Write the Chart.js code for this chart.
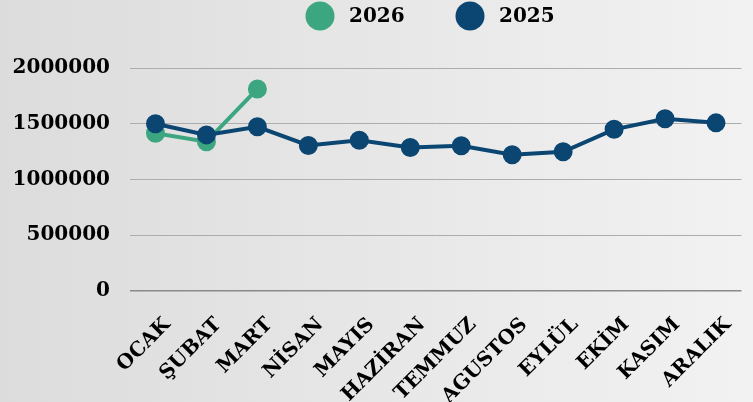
<!DOCTYPE html>
<html>
<head>
<meta charset="utf-8">
<script src="https://cdn.jsdelivr.net/npm/chart.js@4"></script>
<style>
  html, body { margin: 0; padding: 0; }
  body {
    width: 753px; height: 402px; overflow: hidden;
    background: linear-gradient(90deg, #dcdcdc 0%, #e6e6e6 45%, #f2f2f2 100%);
  }
  #wrap { position: relative; width: 753px; height: 402px; }
</style>
</head>
<body>
<div id="wrap"><canvas id="salesChart"></canvas></div>
<script>
const months = ["OCAK", "ŞUBAT", "MART", "NİSAN", "MAYIS", "HAZİRAN", "TEMMUZ", "AGUSTOS", "EYLÜL", "EKİM", "KASIM", "ARALIK"];
const values2025 = [1500000, 1400000, 1473000, 1305000, 1352000, 1287000, 1302000, 1222000, 1249000, 1450000, 1545000, 1508000];
const values2026 = [1414000, 1339000, 1812000];
const yTicks = [0, 500000, 1000000, 1500000, 2000000];

const BLUE = "#0b4673";
const GREEN = "#3ba67f";
const FONT = "'DejaVu Serif', serif";

// legend drawn by hand so the spacing matches the picture
const topLegend = {
  id: "topLegend",
  afterDraw(chart) {
    const ctx = chart.ctx;
    const items = [chart.data.datasets[1], chart.data.datasets[0]];
    let x = 320;
    ctx.save();
    ctx.font = "bold 20px " + FONT;
    ctx.textBaseline = "middle";
    items.forEach(ds => {
      ctx.beginPath();
      ctx.fillStyle = ds.borderColor;
      ctx.arc(x, 16, 14.5, 0, Math.PI * 2);
      ctx.fill();
      ctx.fillStyle = "#000";
      ctx.fillText(ds.label, x + 29, 17);
      x += 150;
    });
    ctx.restore();
  }
};

new Chart(document.getElementById("salesChart"), {
  type: "line",
  data: {
    labels: months,
    datasets: [
      {
        label: "2025",
        data: values2025,
        borderColor: BLUE,
        backgroundColor: BLUE,
        borderWidth: 4,
        pointRadius: 7.5,
        pointHoverRadius: 7.5,
        tension: 0,
      },
      {
        label: "2026",
        data: values2026,
        borderColor: GREEN,
        backgroundColor: GREEN,
        borderWidth: 4,
        pointRadius: 7.5,
        pointHoverRadius: 7.5,
        tension: 0,
      },
    ],
  },
  options: {
    responsive: true,
    maintainAspectRatio: false,
    animation: false,
    layout: {
      padding: { top: 68, right: 10, left: 0, bottom: 0 },
    },
    plugins: {
      legend: { display: false },
      tooltip: { enabled: false },
    },
    scales: {
      x: {
        offset: true,
        grid: { display: false },
        border: { display: false },
        ticks: {
          color: "#000",
          font: { family: FONT, size: 20, weight: "bold" },
          maxRotation: 45,
          minRotation: 45,
          padding: 14,
          labelOffset: 12,
          autoSkip: false,
        },
        afterFit(scale) { scale.height = 111; },
      },
      y: {
        min: 0,
        max: 2000000,
        afterBuildTicks(scale) { scale.ticks = yTicks.map(v => ({ value: v })); },
        grid: {
          color: ctx => (ctx.tick && ctx.tick.value === 0 ? "#8a8a8a" : "#adadad"),
          lineWidth: ctx => (ctx.tick && ctx.tick.value === 0 ? 1.5 : 1),
          drawTicks: false,
        },
        border: { display: false },
        ticks: {
          color: "#000",
          font: { family: FONT, size: 20, weight: "bold" },
          padding: 20,
          callback: v => String(v),
        },
        afterFit(scale) { scale.width = 130; },
      },
    },
  },
  plugins: [topLegend],
});
</script>
</body>
</html>
